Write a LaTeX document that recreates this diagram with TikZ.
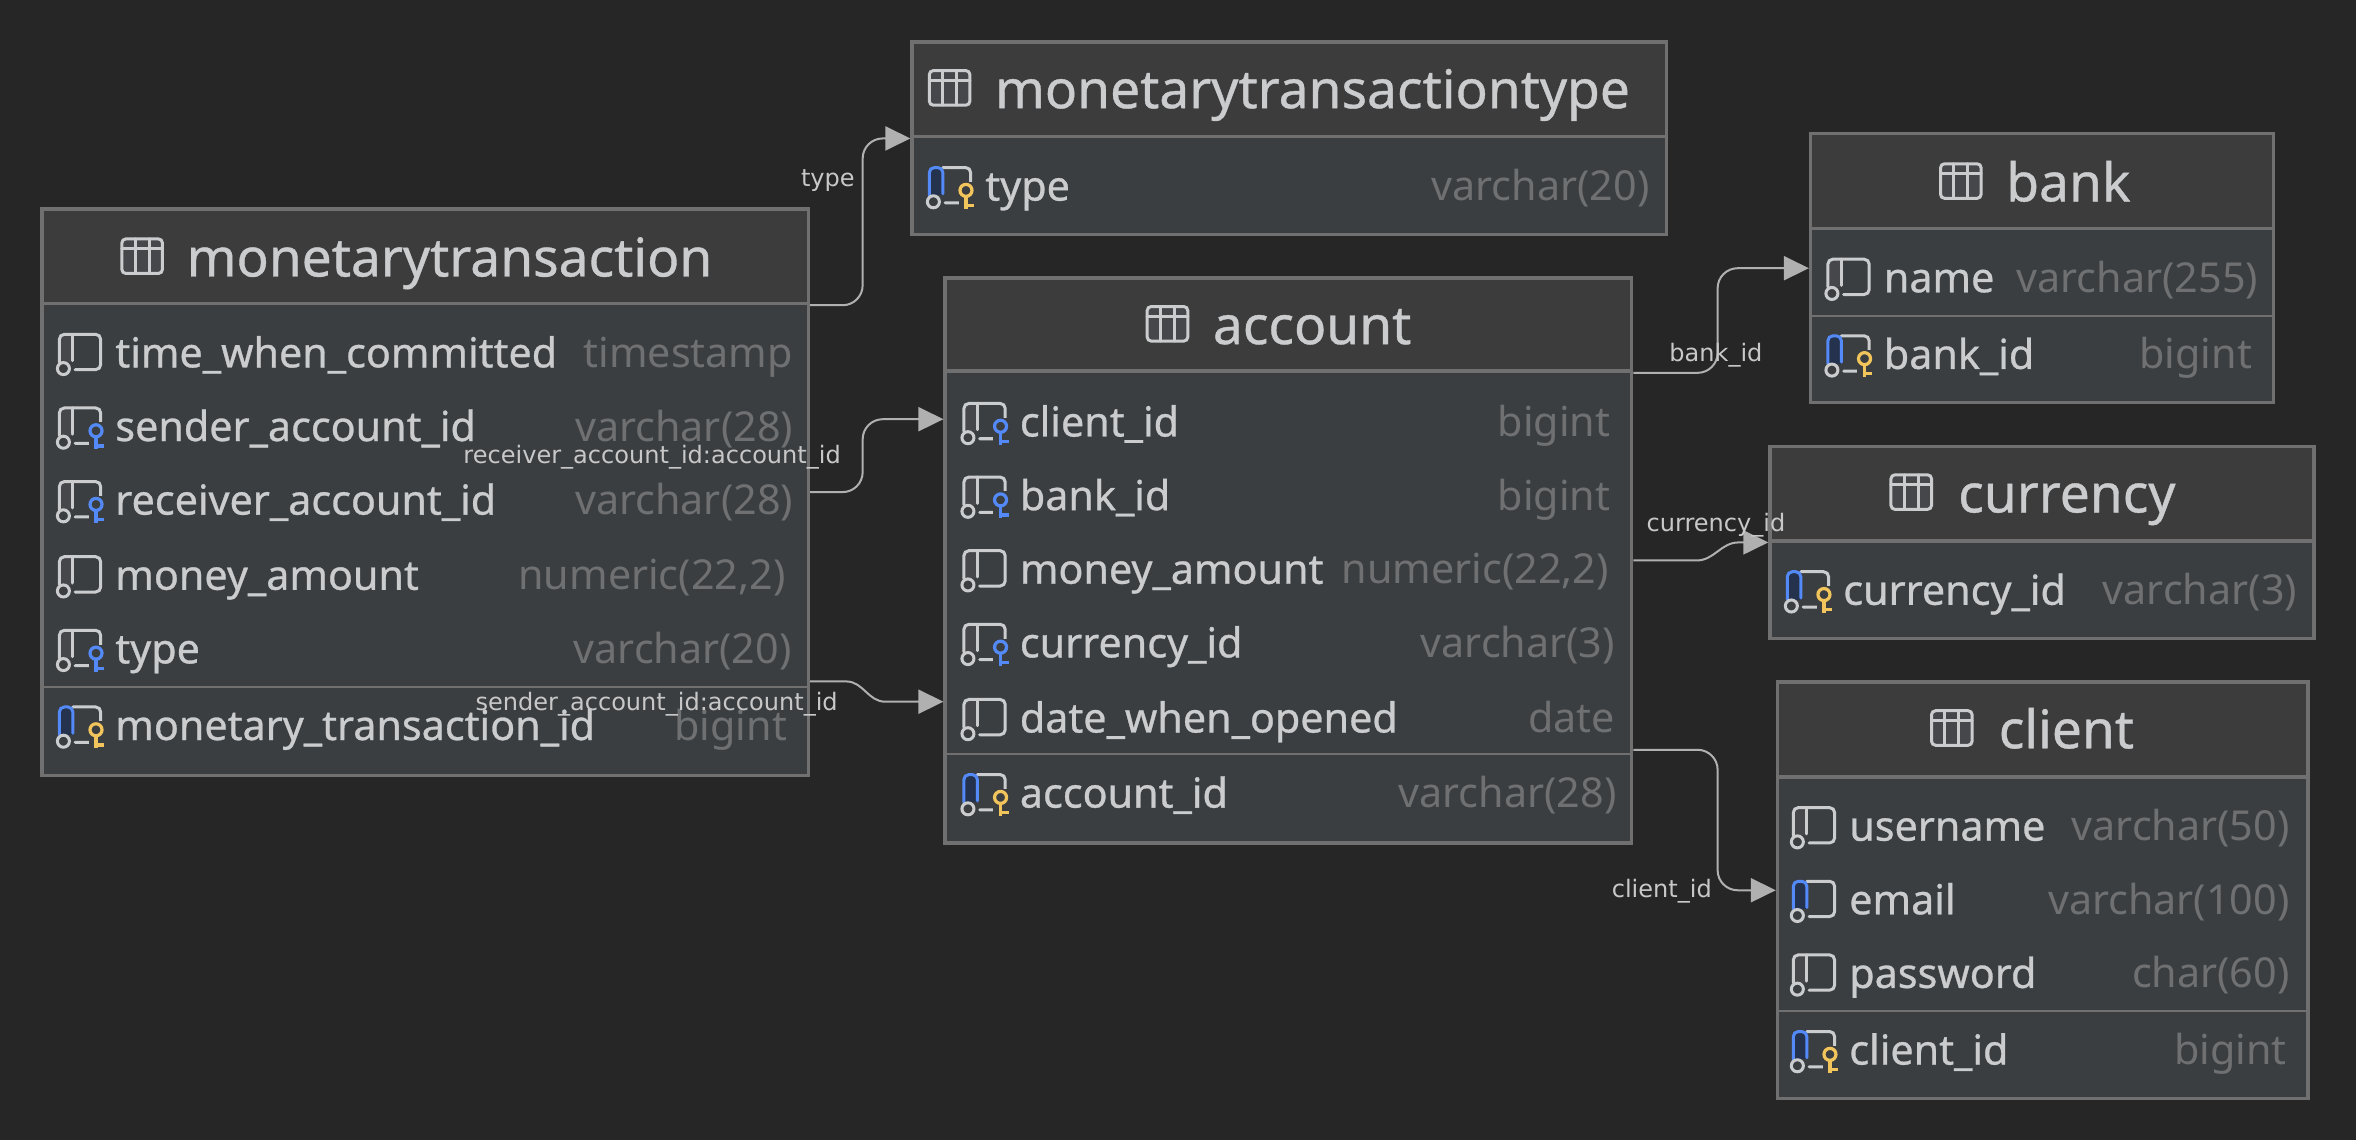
\documentclass[tikz,border=0pt]{standalone}
\usepackage{fontspec}
\setmainfont{Noto Sans}
\newfontfamily\namefont[FakeBold=0.7]{Noto Sans}
\newfontfamily\edgefont{DejaVu Sans}
\usetikzlibrary{positioning,fit,arrows.meta}
\definecolor{canvasbg}{HTML}{262626}
\definecolor{headbg}{HTML}{3C3C3C}
\definecolor{bodybg}{HTML}{3B3E41}
\definecolor{frameline}{HTML}{707070}
\definecolor{nametext}{HTML}{CACCCE}
\definecolor{typetext}{HTML}{6F7071}
\definecolor{edgeline}{HTML}{B0B0B0}
\definecolor{edgetext}{HTML}{C8C8C8}
\definecolor{keyblue}{HTML}{548AF7}
\definecolor{keygold}{HTML}{F2C55C}
\definecolor{barnavy}{HTML}{25324D}
\definecolor{barplain}{HTML}{45474B}
\tikzset{tablebox/.style={draw=frameline, line width=1.7pt, fill=bodybg, inner sep=0pt}}
\tikzset{tablehead/.style={draw=frameline, line width=1.7pt, fill=headbg, inner sep=0pt}}
\tikzset{sepline/.style={draw=frameline, line width=1pt}}
\tikzset{titletext/.style={anchor=base west, inner sep=0pt, text=nametext, font=\namefont\fontsize{26.6}{28}\selectfont}}
\tikzset{colname/.style={anchor=base west, inner sep=0pt, text=nametext, font=\namefont\fontsize{20.6}{22}\selectfont}}
\tikzset{coltype/.style={anchor=base east, inner sep=0pt, text=typetext, font=\fontsize{20.6}{22}\selectfont}}
\tikzset{edgelabel/.style={inner sep=0pt, yshift=-1pt, text=edgetext, font=\edgefont\fontsize{12}{13}\selectfont}}
\tikzset{conn/.style={draw=edgeline, line width=1pt, rounded corners=10, -{Triangle[length=12.5pt,width=12pt,fill=edgeline]}}}
\tikzset{connkink/.style={conn, sharp corners}}
\tikzset{iconline/.style={draw=nametext, line width=1.5pt, line cap=round}}
% icons of a column, origin at the middle of the row
\tikzset{colbase/.pic={
	\fill[barplain] (1.5,-12.5) rectangle (10.5,6);
	\draw[iconline, rounded corners=2.5] (1.5,6) -- (1.5,-12.5) -- (29,-12.5) -- (29,11) -- (12,11);
	\draw[iconline] (10.5,-12.5) -- (10.5,5);
	\draw[iconline, fill=bodybg] (4.2,10.3) circle (4);
}}
\tikzset{colbar/.pic={
	\fill[barnavy] (1.5,-12.5) rectangle (10.5,6);
	\draw[iconline, rounded corners=2.5] (10.5,-12.5) -- (29,-12.5) -- (29,11) -- (12,11);
	\draw[iconline, draw=keyblue, rounded corners=2.5] (1.5,6) -- (1.5,-12.5) -- (10.5,-12.5) -- (10.5,5);
	\draw[iconline, fill=bodybg] (4.2,10.3) circle (4);
}}
\tikzset{colkey/.pic={
	\fill[bodybg] (21,-3) rectangle (33,17);
	\draw[line width=1.6pt, draw=#1, fill=bodybg] (25.9,2.7) circle (4);
	\draw[line width=1.6pt, draw=#1] (25.9,6.7) -- (25.9,15) (25.9,12.8) -- (31.2,12.8);
}}
\tikzset{colplain/.pic={\pic {colbase};}}
\tikzset{colfk/.pic={\pic {colbase}; \pic {colkey=keyblue};}}
\tikzset{colpk/.pic={\pic {colbar}; \pic {colkey=keygold};}}
\tikzset{tableicon/.pic={
	\draw[iconline, fill=barplain, rounded corners=2] (-13.5,-11.5) rectangle (13.5,11.5);
	\draw[iconline] (-13.5,-5) -- (13.5,-5) (-4.6,-11.5) -- (-4.6,11.5) (4.6,-11.5) -- (4.6,11.5);
}}
\begin{document}
\begin{tikzpicture}[x=0.75pt, y=-0.75pt]
	\useasboundingbox[fill=canvasbg] (0,0) rectangle (1568,758.7);
	% tables
	\node[tablebox, fit={(28,139) (538,516)}] (mt) {};
	\node[tablehead, fit={(28,139) (538,202)}] (mthead) {};
	\node[tablebox, fit={(607,28) (1109,156)}] (mtt) {};
	\node[tablehead, fit={(607,28) (1109,91)}] (mtthead) {};
	\node[tablebox, fit={(629,185) (1086,561)}] (account) {};
	\node[tablehead, fit={(629,185) (1086,247)}] (accounthead) {};
	\node[tablebox, fit={(1205,89) (1513,268)}] (bank) {};
	\node[tablehead, fit={(1205,89) (1513,152)}] (bankhead) {};
	\node[tablebox, fit={(1178,297) (1540,425)}] (currency) {};
	\node[tablehead, fit={(1178,297) (1540,360)}] (currencyhead) {};
	\node[tablebox, fit={(1183,454) (1536,731)}] (client) {};
	\node[tablehead, fit={(1183,454) (1536,517)}] (clienthead) {};
	%
	\draw[sepline] (28,457) -- (538,457);
	\draw[sepline] (629,502) -- (1086,502);
	\draw[sepline] (1205,210) -- (1513,210);
	\draw[sepline] (1183,673) -- (1536,673);
	%
	\foreach \iconx/\titlex/\titley/\titlename/\titleid in {
		94.6/124/184/monetarytransaction/mttitle,
		632/662/72/monetarytransactiontype/mtttitle,
		777/807/229/account/accounttitle,
		1305/1335/134/bank/banktitle,
		1272/1303/341/currency/currencytitle,
		1299/1330/498/client/clienttitle}{
		\pic at (\iconx,\titley-13.5) {tableicon};
		\node[titletext] (\titleid) at (\titlex,\titley) {\titlename};
	}
	% columns
	\foreach \rowid/\iconx/\rowy/\rowicon/\rowname/\rowtype/\typex in {
		mta/38/235/colplain/time\_when\_committed/timestamp/528,
		mtb/38/284/colfk/sender\_account\_id/varchar(28)/528,
		mtc/38/333/colfk/receiver\_account\_id/varchar(28)/528,
		mtd/38/383/colplain/money\_amount/{numeric(22,2)}/523,
		mte/38/432/colfk/type/varchar(20)/527,
		mtf/38/483/colpk/monetary\_transaction\_id/bigint/524,
		mtta/617/124/colpk/type/varchar(20)/1098,
		aca/640/281/colfk/client\_id/bigint/1072,
		acb/640/330/colfk/bank\_id/bigint/1072,
		acc/640/379/colplain/money\_amount/{numeric(22,2)}/1071,
		acd/640/428/colfk/currency\_id/varchar(3)/1075,
		ace/640/478/colplain/date\_when\_opened/date/1075,
		acf/640/528/colpk/account\_id/varchar(28)/1076,
		baa/1215/185/colplain/name/varchar(255)/1503,
		bab/1215/236/colpk/bank\_id/bigint/1499,
		cua/1188/393/colpk/currency\_id/varchar(3)/1529,
		cla/1192/550/colplain/username/varchar(50)/1524,
		clb/1192/599/colbar/email/varchar(100)/1524,
		clc/1192/648/colplain/password/char(60)/1524,
		cld/1192/699/colpk/client\_id/bigint/1522}{
		\pic at (\iconx,\rowy) {\rowicon};
		\node[colname] (\rowid name) at (\iconx+38.5,\rowy+9.5) {\rowname};
		\node[coltype] (\rowid type) at (\typex,\rowy+9.5) {\rowtype};
	}
	% references
	\draw[conn] (mthead.south east) -- ++(35,0) |- (mtthead.south west);
	\draw[conn] (mt.east) -- ++(35,0) |- ([yshift=70.5pt]account.west);
	\draw[connkink] ([yshift=-94.5pt]mt.east) -- ++(24,0) to[out=0, in=180] ++(26,13.5) -- ([yshift=-70.5pt]account.west);
	\draw[conn] (accounthead.south east) -- ++(56,0) |- (bank.west);
	\draw[connkink] (account.east) -- ++(42,0) to[out=0, in=180] ++(28,-12) -- (currency.west);
	\draw[conn] ([yshift=-94.5pt]account.east) -- ++(56,0) |- (client.west);
	%
	\node[edgelabel] (typelabel) at (551,119) {type};
	\node[edgelabel] (receiverlabel) at (434,303) {receiver\_account\_id:account\_id};
	\node[edgelabel] (senderlabel) at (437,467) {sender\_account\_id:account\_id};
	\node[edgelabel] (banklabel) at (1142,235) {bank\_id};
	\node[edgelabel] (currencylabel) at (1142,348) {currency\_id};
	\node[edgelabel] (clientlabel) at (1106,592) {client\_id};
\end{tikzpicture}
\end{document}
